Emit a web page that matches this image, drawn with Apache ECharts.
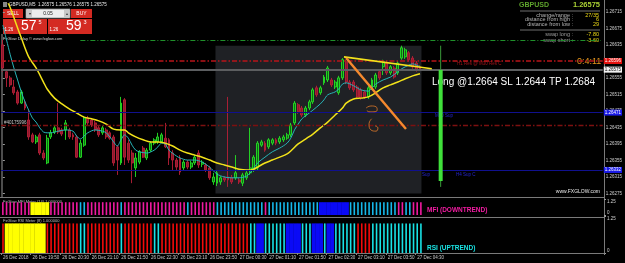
<!DOCTYPE html>
<html>
<head>
<meta charset="utf-8">
<script src="https://cdn.jsdelivr.net/npm/echarts@6.0.0/dist/echarts.min.js"></script>
<style>
  html, body { margin: 0; padding: 0; background: #000; }
  #chart { width: 625px; height: 263px; }
</style>
</head>
<body>
<div id="chart"></div>
<script>
// GBPUSD M5, 26-27 Dec 2018
const totalSlots = 163; // 114 bars + chart shift space

const timeLabels = ['26 Dec 2018', '26 Dec 19:50', '26 Dec 20:30', '26 Dec 21:10', '26 Dec 21:50',
  '26 Dec 22:30', '26 Dec 23:10', '26 Dec 23:50', '27 Dec 00:30', '27 Dec 01:10', '27 Dec 01:50',
  '27 Dec 02:30', '27 Dec 03:10', '27 Dec 03:50', '27 Dec 04:30'];
const labelBars = [0, 8, 16, 24, 32, 40, 48, 56, 64, 72, 80, 88, 96, 104, 112];

const opens = [1.26635, 1.26570, 1.26555, 1.26533, 1.26521, 1.26494, 1.26497, 1.26453, 1.26417, 1.26400,
  1.26417, 1.26373, 1.26349, 1.26412, 1.26424, 1.26434, 1.26429, 1.26429, 1.26429, 1.26417,
  1.26412, 1.26363, 1.26392, 1.26458, 1.26453, 1.26446, 1.26434, 1.26422, 1.26429, 1.26422,
  1.26412, 1.26388, 1.26349, 1.26502, 1.26397, 1.26373, 1.26337, 1.26351, 1.26385, 1.26361,
  1.26380, 1.26397, 1.26400, 1.26400, 1.26409, 1.26405, 1.26373, 1.26356, 1.26361, 1.26337,
  1.26351, 1.26339, 1.26349, 1.26373, 1.26346, 1.26344, 1.26337, 1.26303, 1.26300, 1.26303,
  1.26313, 1.26315, 1.26313, 1.26313, 1.26308, 1.26300, 1.26313, 1.26325, 1.26332, 1.26337,
  1.26392, 1.26397, 1.26388, 1.26397, 1.26405, 1.26400, 1.26405, 1.26409, 1.26417, 1.26446,
  1.26490, 1.26482, 1.26465, 1.26482, 1.26497, 1.26531, 1.26519, 1.26543, 1.26550, 1.26550,
  1.26533, 1.26519, 1.26555, 1.26594, 1.26545, 1.26545, 1.26533, 1.26526, 1.26521, 1.26509,
  1.26531, 1.26533, 1.26570, 1.26582, 1.26591, 1.26567, 1.26579, 1.26567, 1.26603, 1.26606,
  1.26616, 1.26603, 1.26591, 1.26582];
const closes = [1.26579, 1.26555, 1.26538, 1.26519, 1.26494, 1.26521, 1.26482, 1.26412, 1.26400, 1.26412,
  1.26373, 1.26361, 1.26409, 1.26422, 1.26434, 1.26424, 1.26419, 1.26446, 1.26412, 1.26412,
  1.26363, 1.26397, 1.26458, 1.26446, 1.26441, 1.26429, 1.26417, 1.26434, 1.26412, 1.26409,
  1.26349, 1.26356, 1.26494, 1.26363, 1.26356, 1.26349, 1.26361, 1.26376, 1.26363, 1.26380,
  1.26397, 1.26405, 1.26412, 1.26417, 1.26388, 1.26361, 1.26356, 1.26339, 1.26327, 1.26351,
  1.26339, 1.26349, 1.26363, 1.26344, 1.26351, 1.26332, 1.26313, 1.26315, 1.26325, 1.26313,
  1.26308, 1.26308, 1.26303, 1.26325, 1.26303, 1.26320, 1.26325, 1.26337, 1.26363, 1.26397,
  1.26400, 1.26380, 1.26405, 1.26405, 1.26397, 1.26409, 1.26412, 1.26417, 1.26441, 1.26494,
  1.26473, 1.26465, 1.26482, 1.26497, 1.26526, 1.26514, 1.26531, 1.26557, 1.26579, 1.26538,
  1.26545, 1.26555, 1.26599, 1.26545, 1.26531, 1.26526, 1.26509, 1.26506, 1.26509, 1.26531,
  1.26550, 1.26562, 1.26555, 1.26594, 1.26567, 1.26582, 1.26557, 1.26591, 1.26628, 1.26623,
  1.26599, 1.26582, 1.26574, 1.26575];
const lows = [1.26570, 1.26533, 1.26533, 1.26514, 1.26490, 1.26492, 1.26477, 1.26405, 1.26397, 1.26395,
  1.26368, 1.26356, 1.26346, 1.26407, 1.26419, 1.26419, 1.26414, 1.26405, 1.26407, 1.26405,
  1.26361, 1.26361, 1.26388, 1.26441, 1.26436, 1.26424, 1.26412, 1.26417, 1.26407, 1.26405,
  1.26342, 1.26320, 1.26344, 1.26344, 1.26349, 1.26300, 1.26315, 1.26346, 1.26361, 1.26356,
  1.26376, 1.26392, 1.26395, 1.26397, 1.26385, 1.26344, 1.26332, 1.26332, 1.26320, 1.26332,
  1.26334, 1.26334, 1.26344, 1.26337, 1.26339, 1.26327, 1.26308, 1.26296, 1.26293, 1.26296,
  1.26303, 1.26291, 1.26298, 1.26308, 1.26298, 1.26293, 1.26308, 1.26320, 1.26327, 1.26332,
  1.26388, 1.26376, 1.26383, 1.26392, 1.26392, 1.26395, 1.26400, 1.26405, 1.26412, 1.26441,
  1.26468, 1.26460, 1.26460, 1.26477, 1.26492, 1.26509, 1.26514, 1.26538, 1.26545, 1.26533,
  1.26528, 1.26514, 1.26550, 1.26540, 1.26526, 1.26521, 1.26504, 1.26502, 1.26504, 1.26504,
  1.26526, 1.26528, 1.26550, 1.26562, 1.26562, 1.26562, 1.26553, 1.26562, 1.26599, 1.26601,
  1.26594, 1.26577, 1.26570, 1.26572];
const highs = [1.26647, 1.26574, 1.26560, 1.26550, 1.26526, 1.26526, 1.26502, 1.26477, 1.26422, 1.26417,
  1.26422, 1.26380, 1.26417, 1.26429, 1.26441, 1.26494, 1.26434, 1.26453, 1.26434, 1.26422,
  1.26417, 1.26405, 1.26463, 1.26463, 1.26458, 1.26451, 1.26439, 1.26439, 1.26434, 1.26426,
  1.26417, 1.26392, 1.26509, 1.26506, 1.26405, 1.26380, 1.26373, 1.26380, 1.26390, 1.26385,
  1.26402, 1.26409, 1.26422, 1.26422, 1.26446, 1.26409, 1.26380, 1.26361, 1.26368, 1.26356,
  1.26356, 1.26354, 1.26368, 1.26380, 1.26356, 1.26349, 1.26342, 1.26325, 1.26330, 1.26317,
  1.26317, 1.26509, 1.26320, 1.26368, 1.26313, 1.26325, 1.26330, 1.26434, 1.26368, 1.26402,
  1.26405, 1.26402, 1.26409, 1.26409, 1.26409, 1.26414, 1.26417, 1.26422, 1.26446, 1.26499,
  1.26494, 1.26487, 1.26487, 1.26502, 1.26531, 1.26536, 1.26536, 1.26562, 1.26584, 1.26555,
  1.26550, 1.26560, 1.26603, 1.26599, 1.26550, 1.26550, 1.26538, 1.26531, 1.26526, 1.26536,
  1.26555, 1.26567, 1.26574, 1.26599, 1.26596, 1.26586, 1.26584, 1.26596, 1.26633, 1.26628,
  1.26620, 1.26608, 1.26596, 1.26586];

// moving averages, read at bar index
const maFast = [[0, 1.26683], [1, 1.26647], [2, 1.26611], [3, 1.26579], [4, 1.26550], [5, 1.26521],
  [6, 1.26497], [7, 1.26477], [8, 1.26458], [9, 1.26448], [10, 1.26434], [11, 1.26424], [12, 1.26422],
  [13, 1.26422], [15, 1.26426], [17, 1.26429], [19, 1.26426], [20, 1.26414], [21, 1.26407], [22, 1.26414],
  [23, 1.26422], [25, 1.26429], [27, 1.26426], [28, 1.26422], [29, 1.26412], [30, 1.26400], [31, 1.26390],
  [32, 1.26405], [33, 1.26417], [34, 1.26409], [35, 1.26392], [36, 1.26380], [37, 1.26376], [39, 1.26373],
  [41, 1.26380], [42, 1.26388], [43, 1.26397], [44, 1.26395], [45, 1.26380], [47, 1.26366], [48, 1.26361],
  [50, 1.26356], [52, 1.26356], [54, 1.26351], [56, 1.26339], [58, 1.26322], [60, 1.26315], [62, 1.26313],
  [64, 1.26313], [66, 1.26317], [67, 1.26325], [68, 1.26337], [69, 1.26349], [71, 1.26363], [73, 1.26376],
  [75, 1.26385], [77, 1.26397], [78, 1.26409], [79, 1.26429], [80, 1.26443], [81, 1.26456], [82, 1.26463],
  [84, 1.26477], [86, 1.26492], [87, 1.26502], [88, 1.26514], [90, 1.26521], [91, 1.26528], [92, 1.26540],
  [93, 1.26543], [95, 1.26536], [97, 1.26526], [99, 1.26523], [100, 1.26531], [101, 1.26540], [103, 1.26550],
  [105, 1.26557], [107, 1.26570], [108, 1.26577], [110, 1.26586], [111, 1.26589], [113, 1.26582]];
const maSlow = [[0, 1.26763], [2, 1.26725], [4, 1.26676], [5, 1.26652], [7, 1.26606], [9, 1.26579],
  [11, 1.26545], [12, 1.26528], [14, 1.26506], [16, 1.26492], [18, 1.26480], [20, 1.26470], [22, 1.26460],
  [24, 1.26456], [26, 1.26451], [28, 1.26443], [30, 1.26431], [32, 1.26429], [33, 1.26429], [34, 1.26422],
  [36, 1.26412], [38, 1.26405], [40, 1.26400], [42, 1.26400], [44, 1.26397], [46, 1.26390], [48, 1.26380],
  [50, 1.26373], [52, 1.26368], [54, 1.26363], [56, 1.26356], [58, 1.26349], [60, 1.26344], [62, 1.26339],
  [64, 1.26334], [66, 1.26332], [67, 1.26332], [68, 1.26334], [69, 1.26339], [71, 1.26349], [73, 1.26356],
  [75, 1.26363], [77, 1.26371], [78, 1.26378], [80, 1.26395], [82, 1.26407], [84, 1.26419], [86, 1.26434],
  [88, 1.26448], [90, 1.26465], [92, 1.26482], [93, 1.26494], [95, 1.26504], [97, 1.26506], [99, 1.26509],
  [101, 1.26519], [103, 1.26531], [105, 1.26538], [107, 1.26545], [109, 1.26553], [111, 1.26560], [113, 1.26565]];

// meter states, as runs of [state, bars]
const mfiRuns = [['P', 8], ['Y', 5], ['P', 8], ['C', 2], ['P', 9], ['C', 1], ['P', 17], ['C', 1], ['P', 7],
  ['C', 13], ['P', 1], ['C', 14], ['B', 8], ['C', 13], ['P', 2], ['C', 2], ['P', 3]];
const rsiRuns = [['R', 1], ['Y', 11], ['R', 9], ['C', 2], ['R', 9], ['C', 1], ['R', 8], ['C', 2], ['R', 24],
  ['C', 2], ['B', 2], ['C', 6], ['B', 4], ['C', 3], ['B', 3], ['C', 1], ['B', 2], ['C', 6], ['R', 4], ['C', 14]];

// horizontal levels
const greenLevel = 1.26645;
const resLevel = 1.26596;
const bidPrice = 1.26575;
const m30Sup = 1.26471;
const orderLevel = 1.26440;
const h1Sup = 1.26332;

// drawn objects (bar index, price)
const zoneBox = [57.6, 113.4, 1.26633, 1.26275];
const trendYellow = [[92.4, 1.26606], [116.2, 1.26577]];
const trendOrange = [[93, 1.26603], [109.2, 1.26431]];
const scribbleTop = [[98.4, 1.26482], [99.7, 1.26487], [101.1, 1.26485], [101.4, 1.26477], [100.5, 1.26473], [99.2, 1.26473], [98.6, 1.26476]];
const scribbleBottom = [[99.9, 1.26456], [99.2, 1.26444], [99.7, 1.26429], [101.1, 1.26426], [101.6, 1.26434], [100.8, 1.26439]];
const signalBar = 118.6;
const signalThin = [1.26633, 1.26291];
const signalThick = [1.26574, 1.26305];

const slotNames = Array.from({ length: totalSlots }, (_, i) => String(i));
const candles = opens.map((o, i) => [o, closes[i], lows[i], highs[i]]);

function expandRuns(runs) {
  const out = [];
  runs.forEach(([k, n]) => { for (let j = 0; j < n; j++) out.push(k); });
  return out;
}

const meterKeys = ['P', 'Y', 'C', 'B', 'R'];
function meterSeries(runs, colors, idx) {
  return {
    type: 'custom',
    xAxisIndex: idx,
    yAxisIndex: idx,
    encode: { x: 0, y: 1 },
    data: expandRuns(runs).map((k, i) => [i, 1, meterKeys.indexOf(k)]),
    renderItem: (params, api) => {
      const key = meterKeys[api.value(2)];
      const top = api.coord([api.value(0), api.value(1)]);
      const base = api.coord([api.value(0), 0]);
      const band = api.size([1, 0])[0];
      const w = (key === 'Y' || key === 'B') ? band + 0.3 : 1.6;
      return {
        type: 'rect',
        shape: { x: top[0] - w / 2, y: top[1], width: w, height: base[1] - top[1] },
        style: { fill: colors[key] }
      };
    }
  };
}

function lineSeries(data, color, width, extra) {
  return Object.assign({
    type: 'line',
    xAxisIndex: 3,
    yAxisIndex: 0,
    data: data,
    symbol: 'none',
    silent: true,
    lineStyle: { color: color, width: width }
  }, extra || {});
}

const FONT = 'Liberation Sans, Arial, sans-serif';

function boxLabel(text, bg, fg) {
  return {
    show: true, position: 'end', formatter: text, distance: 1,
    backgroundColor: bg, color: fg, padding: [1, 1, 0, 1],
    fontSize: 4.5, fontFamily: FONT
  };
}

function txt(x, y, text, font, fill, align) {
  return { type: 'text', x: x, y: y, silent: true,
    style: { text: text, font: font, fill: fill, align: align || 'left', verticalAlign: 'middle' } };
}
function rect(x, y, w, h, fill, stroke) {
  return { type: 'rect', silent: true, shape: { x: x, y: y, width: w, height: h },
    style: { fill: fill, stroke: stroke || null, lineWidth: stroke ? 0.8 : 0 } };
}
function hline(x1, x2, y, color, w) {
  return { type: 'line', silent: true, shape: { x1: x1, y1: y, x2: x2, y2: y }, style: { stroke: color, lineWidth: w || 1 } };
}
function vline(x, y1, y2, color, w) {
  return { type: 'line', silent: true, shape: { x1: x, y1: y1, x2: x, y2: y2 }, style: { stroke: color, lineWidth: w || 1 } };
}

// meter pane axis labels sit inside the pane (top label below, bottom label above)
const meterAxisLabel = {
  margin: 3, color: '#d0d0d0', fontSize: 4.5, fontFamily: FONT,
  formatter: (v) => v === 0 ? '{b|0}' : '{t|1.25}',
  rich: {
    t: { fontSize: 4.5, fontFamily: FONT, color: '#d0d0d0', padding: [5, 0, 0, 0] },
    b: { fontSize: 4.5, fontFamily: FONT, color: '#d0d0d0', padding: [0, 0, 5, 0] }
  }
};

const chart = echarts.init(document.getElementById('chart'));

const option = {
  backgroundColor: '#000',
  animation: false,
  grid: [
    { left: 1, top: 4, width: 603, height: 189.5 },
    { left: 1, top: 199, width: 603, height: 16 },
    { left: 1, top: 216, width: 603, height: 37 }
  ],
  xAxis: [
    { type: 'category', gridIndex: 0, data: slotNames, boundaryGap: true, show: false },
    { type: 'category', gridIndex: 1, data: slotNames, boundaryGap: true, show: false },
    {
      type: 'category', gridIndex: 2, data: slotNames, boundaryGap: true,
      axisLine: { show: false },
      axisTick: { show: true, length: 2, interval: (i) => labelBars.includes(i), lineStyle: { color: '#888' } },
      axisLabel: {
        interval: (i) => labelBars.includes(i),
        formatter: (v, i) => timeLabels[labelBars.indexOf(i)] || '',
        align: 'left', margin: 2.5, color: '#c8c8c8', fontSize: 4.5, fontFamily: FONT
      }
    },
    { type: 'value', gridIndex: 0, min: -0.5, max: totalSlots - 0.5, show: false }
  ],
  yAxis: [
    {
      type: 'value', gridIndex: 0, position: 'right', min: 1.26275, max: 1.26734, interval: 0.0004,
      splitLine: { show: false }, axisLine: { show: false },
      axisTick: { show: true, length: 2, lineStyle: { color: '#999' } },
      axisLabel: { showMaxLabel: false, margin: 3, color: '#d0d0d0', fontSize: 4.5, fontFamily: FONT,
        formatter: (v) => v.toFixed(5) }
    },
    {
      type: 'value', gridIndex: 1, position: 'right', min: 0, max: 1.25, interval: 1.25,
      splitLine: { show: false }, axisLine: { show: false },
      axisTick: { show: true, length: 2, lineStyle: { color: '#999' } },
      axisLabel: meterAxisLabel
    },
    {
      type: 'value', gridIndex: 2, position: 'right', min: 0, max: 1.25, interval: 1.25,
      splitLine: { show: false }, axisLine: { show: false },
      axisTick: { show: true, length: 2, lineStyle: { color: '#999' } },
      axisLabel: meterAxisLabel
    }
  ],
  series: [
    {
      // shaded zone behind candles
      type: 'custom', xAxisIndex: 3, yAxisIndex: 0, z: 1, silent: true,
      encode: { x: [0, 1], y: [2, 3] },
      data: [zoneBox],
      renderItem: (params, api) => {
        const p0 = api.coord([api.value(0), api.value(2)]);
        const p1 = api.coord([api.value(1), api.value(3)]);
        return { type: 'rect', shape: { x: p0[0], y: p0[1], width: p1[0] - p0[0], height: p1[1] - p0[1] },
          style: { fill: '#1f2125' } };
      }
    },
    {
      type: 'candlestick', xAxisIndex: 0, yAxisIndex: 0, z: 3,
      data: candles,
      barWidth: 2.4,
      itemStyle: {
        color: '#0c6e12', borderColor: '#25e325',
        color0: '#8c1a2c', borderColor0: '#b81f38', borderWidth: 0.9
      },
      markLine: {
        silent: true, symbol: ['none', 'none'], animation: false, precision: 5,
        label: { show: false },
        data: [
          [{ coord: ['21', greenLevel], lineStyle: { color: '#1f8f2a', width: 1, type: [5, 2, 1, 2] } },
           { coord: [String(totalSlots - 1), greenLevel] }],
          { yAxis: resLevel, lineStyle: { color: '#b8141a', width: 1.6, type: [5, 2, 1.5, 2] },
            label: boxLabel('1.26596', '#e4120e', '#fff') },
          { yAxis: bidPrice, lineStyle: { color: '#5c5e60', width: 2, type: 'solid' },
            label: boxLabel('1.26575', '#f2f2f2', '#000') },
          { yAxis: m30Sup, lineStyle: { color: '#10108e', width: 1, type: 'solid' },
            label: boxLabel('1.26471', '#1a1ae8', '#fff') },
          { yAxis: orderLevel, lineStyle: { color: '#7d1010', width: 1.4, type: [5, 2, 1.5, 2] } },
          { yAxis: h1Sup, lineStyle: { color: '#10108e', width: 1, type: 'solid' },
            label: boxLabel('1.26332', '#1a1ae8', '#fff') }
        ]
      }
    },
    lineSeries(maFast, '#27b4b8', 1, { smooth: 0.3, z: 4 }),
    lineSeries(maSlow, '#f2e21a', 1.5, { smooth: 0.3, z: 4 }),
    lineSeries(trendYellow, '#f4e21c', 1.6, { z: 5 }),
    lineSeries(trendOrange, '#f5892e', 2.4, { z: 5 }),
    lineSeries(scribbleTop, '#e07a2a', 0.8, { smooth: 0.5, z: 5 }),
    lineSeries(scribbleBottom, '#e07a2a', 0.8, { smooth: 0.5, z: 5 }),
    lineSeries([[signalBar, signalThin[0]], [signalBar, signalThin[1]]], '#3a9a3a', 1, { z: 5 }),
    lineSeries([[signalBar, signalThick[0]], [signalBar, signalThick[1]]], '#3fe03a', 4, { z: 6 }),
    meterSeries(mfiRuns, { P: '#f01aa0', Y: '#ffff00', C: '#16b8ea', B: '#0a0af5', R: '#ff0000' }, 1),
    meterSeries(rsiRuns, { P: '#f01aa0', Y: '#ffff00', C: '#18e2e6', B: '#0a0af5', R: '#f50a0a' }, 2)
  ],
  graphic: [
    // pane frame
    vline(604.5, 0, 254, '#7a7a7a'),
    hline(0, 604, 197.5, '#7a7a7a'),
    hline(0, 604, 217.5, '#7a7a7a'),
    hline(0, 604, 253.5, '#7a7a7a'),
    vline(2, 34, 197, '#9a9a9a'),

    // header
    rect(3, 2, 4, 5, '#888'),
    txt(9, 4.5, 'GBPUSD,M5  1.26575 1.26576 1.26575 1.26575', '4.5px ' + FONT, '#e8e8e8'),

    // one click trading panel
    rect(3, 9, 20, 9, '#d42a22'),
    txt(13, 13.5, 'SELL', '5px ' + FONT, '#fff', 'center'),
    rect(26, 9, 44, 9, '#ededed', '#888'),
    rect(27, 10, 5, 7, '#c8c8c8'),
    rect(64, 10, 5, 7, '#c8c8c8'),
    txt(29.5, 13.5, '▾', '4px ' + FONT, '#333', 'center'),
    txt(66.5, 13.5, '▴', '4px ' + FONT, '#333', 'center'),
    txt(48, 13.5, '0.05', '5px ' + FONT, '#222', 'center'),
    rect(71, 9, 21, 9, '#d42a22'),
    txt(81.5, 13.5, 'BUY', '5px ' + FONT, '#fff', 'center'),
    rect(3, 19, 44, 15, '#d42a22'),
    rect(48, 19, 44, 15, '#d42a22'),
    txt(4.5, 30, '1.26', '4.5px ' + FONT, '#fff'),
    txt(21, 26.5, '57', '14px ' + FONT, '#fff'),
    txt(38.5, 22.5, '5', '5.5px ' + FONT, '#fff'),
    txt(49.5, 30, '1.26', '4.5px ' + FONT, '#fff'),
    txt(66, 26.5, '59', '14px ' + FONT, '#fff'),
    txt(83.5, 22.5, '3', '5.5px ' + FONT, '#fff'),
    txt(3, 38.5, 'FxGlow Delay © www.fxglow.com', '4px ' + FONT, '#d8d8d8'),

    // symbol info panel
    txt(519, 5, 'GBPUSD', 'bold 7px ' + FONT, '#5ea32c'),
    txt(600, 5, '1.26575', 'bold 7.5px ' + FONT, '#a9d034', 'right'),
    hline(520, 600, 11, '#8a8a8a', 0.8),
    txt(573, 15, 'change/range :', '5.5px ' + FONT, '#b5b5b5', 'right'),
    txt(599, 15, '27/35', '5.5px ' + FONT, '#ecd816', 'right'),
    txt(573, 19.5, 'distance from high :', '5.5px ' + FONT, '#b5b5b5', 'right'),
    txt(599, 19.5, '6', '5.5px ' + FONT, '#ecd816', 'right'),
    txt(573, 24.5, 'distance from low :', '5.5px ' + FONT, '#b5b5b5', 'right'),
    txt(599, 24.5, '29', '5.5px ' + FONT, '#ecd816', 'right'),
    hline(520, 600, 30, '#8a8a8a', 0.8),
    txt(573, 34.5, 'swap long :', '5.5px ' + FONT, '#9a9a9a', 'right'),
    txt(599, 34.5, '-7.80', '5.5px ' + FONT, '#ecd816', 'right'),
    txt(573, 40.5, 'swap short :', '5.5px ' + FONT, '#9a9a9a', 'right'),
    txt(599, 40.5, '-3.60', '5.5px ' + FONT, '#ecd816', 'right'),

    // level names and notes
    txt(457, 63.5, 'H1 Res @ M30 Res C', '4.5px ' + FONT, '#a0141a'),
    txt(435, 116, 'M30 Sup', '4.5px ' + FONT, '#2525d0'),
    txt(415, 175, 'H1 Sup', '4.5px ' + FONT, '#2525d0'),
    txt(456, 175, 'H4 Sup C', '4.5px ' + FONT, '#2525d0'),
    txt(4, 122.5, '#40175996 3', '4.5px ' + FONT, '#c8c8c8'),
    txt(577, 61.5, '0:4:11', '9px ' + FONT, '#e8961c'),
    txt(432, 82, 'Long @1.2664 SL 1.2644 TP 1.2684', '10px ' + FONT, '#fff'),
    txt(600, 192, 'www.FXGLOW.com', '5px ' + FONT, '#e8e8e8', 'right'),

    // indicator captions
    txt(3, 201.5, 'FxGlow MFI Meter (14) 1.000000', '4px ' + FONT, '#bdbdbd'),
    txt(3, 220.5, 'FxGlow RSI Meter (8) 1.000000', '4px ' + FONT, '#bdbdbd'),
    txt(427, 210.5, 'MFI (DOWNTREND)', 'bold 6.5px ' + FONT, '#f21ca2'),
    txt(427, 248, 'RSI (UPTREND)', 'bold 6.5px ' + FONT, '#19e4e4')
  ]
};

chart.setOption(option);
</script>
</body>
</html>
